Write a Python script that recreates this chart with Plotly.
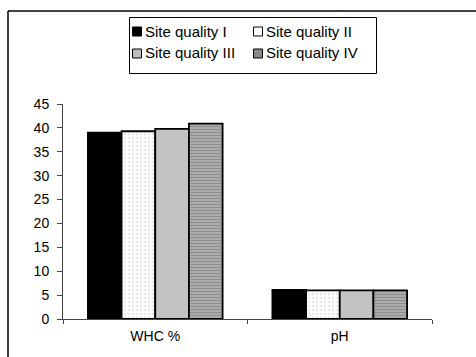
import plotly.graph_objects as go

categories = ["WHC %", "pH"]
series_names = ["Site quality I", "Site quality II", "Site quality III", "Site quality IV"]
values_q1 = [39.0, 6.1]
values_q2 = [39.3, 6.0]
values_q3 = [39.8, 6.0]
values_q4 = [40.9, 6.0]
y_ticks = [0, 5, 10, 15, 20, 25, 30, 35, 40, 45]

series_values = [values_q1, values_q2, values_q3, values_q4]
swatch_colors = ["black", "white", "#bdbdbd", "#8a8a8a"]
markers = [
    dict(color="black", line=dict(color="black", width=1.8)),
    dict(color="white", line=dict(color="black", width=1.8),
         pattern=dict(shape=".", fgcolor="#c8c8c8", bgcolor="white", size=4, solidity=0.25)),
    dict(color="#b0b0b0", line=dict(color="black", width=1.8),
         pattern=dict(shape=".", fgcolor="#707070", bgcolor="#dadada", size=2, solidity=0.5)),
    dict(color="#888888", line=dict(color="black", width=1.8),
         pattern=dict(shape="-", fgcolor="#6a6a6a", bgcolor="#b4b4b4", size=3, solidity=0.5)),
]

fig = go.Figure()
for name, vals, mk in zip(series_names, series_values, markers):
    fig.add_trace(go.Bar(x=categories, y=vals, name=name, marker=mk))

W, H = 476, 357
ml, mr, mt, mb = 63, 44, 104, 38
pw = W - ml - mr
ph = H - mt - mb

def px_x(p):
    return (p - ml) / pw

def px_y(p):
    return (H - mb - p) / ph

# Legend drawn as layout decoration (box, swatches, labels)
shapes = [
    dict(type="line", xref="paper", yref="paper",
         x0=px_x(8), x1=px_x(8), y0=px_y(11), y1=px_y(400),
         line=dict(color="black", width=1.5)),
    dict(type="line", xref="paper", yref="paper",
         x0=px_x(8), x1=px_x(500), y0=px_y(11), y1=px_y(11),
         line=dict(color="black", width=1.5)),
    dict(type="rect", xref="paper", yref="paper",
         x0=px_x(129.5), x1=px_x(376.5), y0=px_y(17.5), y1=px_y(73.5),
         line=dict(color="black", width=1), fillcolor="white", layer="above"),
]
annotations = []
col_sw = [132, 253]
col_tx = [143, 264]
row_y = [31, 53]
for i, name in enumerate(series_names):
    r, c = divmod(i, 2)
    sx = col_sw[c]
    sy = row_y[r]
    shapes.append(dict(type="rect", xref="paper", yref="paper",
                       x0=px_x(sx + 0.5), x1=px_x(sx + 9.5),
                       y0=px_y(sy - 4), y1=px_y(sy + 5),
                       line=dict(color="black", width=1), fillcolor=swatch_colors[i],
                       layer="above"))
    annotations.append(dict(xref="paper", yref="paper", x=px_x(col_tx[c]), y=px_y(sy),
                            text=name, showarrow=False, xanchor="left", yanchor="middle",
                            font=dict(size=15, color="black")))

fig.update_layout(
    width=W, height=H,
    margin=dict(l=ml, r=mr, t=mt, b=mb, pad=0),
    paper_bgcolor="white", plot_bgcolor="white",
    barmode="group", bargap=0.27, bargroupgap=0,
    font=dict(family="Arial, Liberation Sans, sans-serif", size=14, color="black"),
    showlegend=False,
    xaxis=dict(
        showline=True, linecolor="#444444", linewidth=1,
        ticks="outside", tickson="boundaries", ticklen=4, tickcolor="#444444",
        showgrid=False, tickfont=dict(size=14), ticklabelstandoff=4,
    ),
    yaxis=dict(
        range=[0, 45], tickvals=y_ticks, showline=True, linecolor="#444444", linewidth=1,
        ticks="outside", ticklen=5, tickcolor="#444444", showgrid=False, zeroline=False,
        tickfont=dict(size=14), ticklabelstandoff=5,
    ),
    shapes=shapes,
    annotations=annotations,
)

fig.write_html("out.html")
